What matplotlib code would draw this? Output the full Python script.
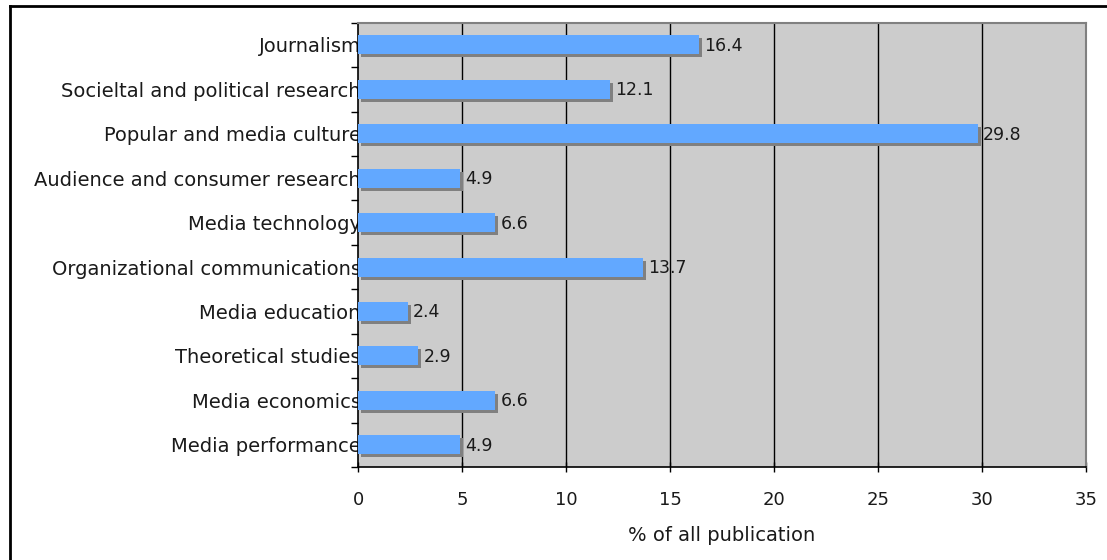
import numpy as np
import matplotlib.pyplot as plt
import matplotlib.transforms as mtransforms
from matplotlib.lines import Line2D

categories = ['Journalism', 'Socieltal and political research', 'Popular and media culture',
              'Audience and consumer research', 'Media technology',
              'Organizational communications', 'Media education', 'Theoretical studies',
              'Media economics', 'Media performance']
values = [16.4, 12.1, 29.8, 4.9, 6.6, 13.7, 2.4, 2.9, 6.6, 4.9]
xticks = [0, 5, 10, 15, 20, 25, 30, 35]

BAR = '#62A8FF'
SHADOW = '#808080'
BG = '#CCCCCC'
TXT = '#1a1a1a'

fig = plt.figure(figsize=(11.07, 5.6), dpi=100)
ax = fig.add_axes([358/1107, 1 - 467/560, 728/1107, (467 - 22.7)/560])
ax.set_facecolor(BG)

y = np.arange(len(categories))
h = 0.43

# gridlines
for xv in xticks[1:-1]:
    ax.axvline(xv, color='black', lw=1, zorder=1)

# shadow, then bar
shift = mtransforms.offset_copy(ax.transData, fig=fig, x=3, y=-3, units='dots')
ax.barh(y, values, height=h, color=SHADOW, transform=shift, zorder=2)
ax.barh(y, values, height=h, color=BAR, zorder=3)

lab_tr = mtransforms.offset_copy(ax.transData, fig=fig, x=5, y=-1, units='dots')
for yi, v in zip(y, values):
    ax.text(v, yi, f'{v:.1f}', transform=lab_tr,
            ha='left', va='center', fontsize=12.5, color=TXT, zorder=4)

ax.set_xlim(0, 35)
ax.set_ylim(len(categories) - 0.5, -0.5)
ax.set_xticks(xticks)
ax.set_xticklabels([str(t) for t in xticks], fontsize=13, color=TXT)
ax.set_yticks(y)
ax.set_yticklabels(categories, fontsize=14, color=TXT)
ax.tick_params(axis='y', which='major', length=0, pad=-2)
ax.set_yticks(np.arange(-0.5, len(categories)), minor=True)
ax.tick_params(axis='y', which='minor', length=5, width=1, direction='out')
ax.tick_params(axis='x', length=7, width=1, direction='inout', pad=14)
ax.set_xlabel('% of all publication', fontsize=14, color=TXT, labelpad=12)

for s in ['left', 'bottom']:
    ax.spines[s].set_color('black')
    ax.spines[s].set_linewidth(1.2)
for s in ['top', 'right']:
    ax.spines[s].set_color('#808080')
    ax.spines[s].set_linewidth(1.5)

# outer frame (runs off the canvas on right/bottom)
fig.add_artist(Line2D([10/1107, 10/1107], [1 - 6/560, 0], color='black', lw=2, transform=fig.transFigure))
fig.add_artist(Line2D([10/1107, 1], [1 - 6/560, 1 - 6/560], color='black', lw=2, transform=fig.transFigure))

fig.savefig('out.png', dpi=100)
